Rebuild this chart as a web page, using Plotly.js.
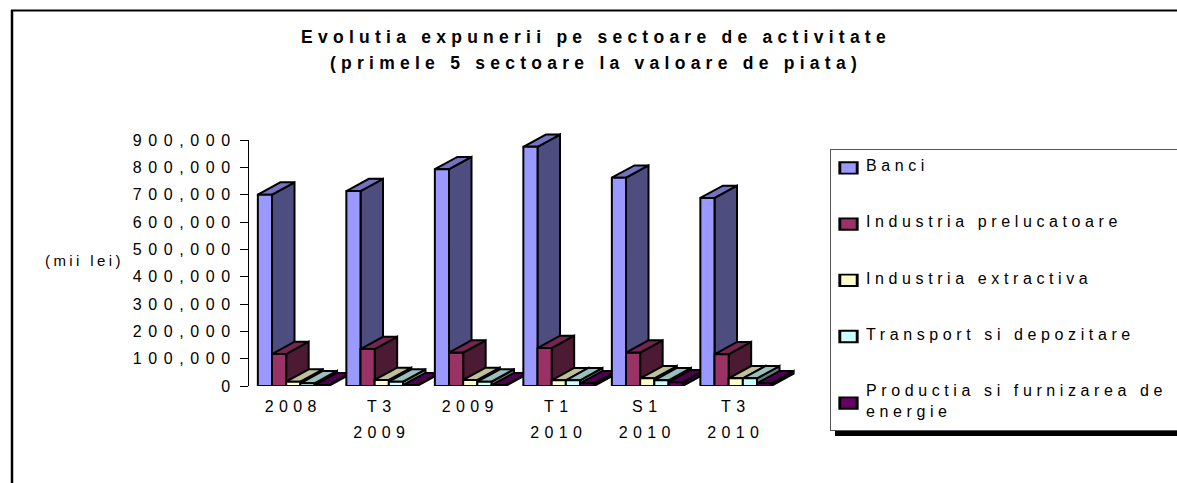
<!DOCTYPE html>
<html>
<head>
<meta charset="utf-8">
<script src="https://cdn.plot.ly/plotly-3.0.1.min.js"></script>
<style>
html,body{margin:0;padding:0;background:#fff;overflow:hidden}
.gtitle{letter-spacing:5.25px}
.y2tick text{letter-spacing:6.6px}
.x2tick text{letter-spacing:5.4px}
.legendtext{letter-spacing:4.6px;transform:translate(-5px,-2px)}
.annotation-text{letter-spacing:3.4px}
.legendpoints path{transform:translate(17.5px,1px) scale(1.45,.95)!important}
</style>
</head>
<body>
<div id="chart" style="width:1177px;height:483px"></div>
<script>
const categories = ["2008","T3<br>2009","2009","T1<br>2010","S1<br>2010","T3<br>2010"];
const banci = [700000,713000,793000,875000,762000,688000];
const prelucratoare = [117000,135000,122000,139000,122000,116000];
const extractiva = [16000,22000,22000,21000,28000,28000];
const transport = [10000,16000,16000,21000,21000,28000];
const energie = [3000,3000,3000,10000,14000,10000];
const seriesNames = ["Banci","Industria prelucatoare","Industria extractiva","Transport si depozitare","Productia si furnizarea de<br>energie"];
const seriesValues = [banci,prelucratoare,extractiva,transport,energie];
const frontColors = ["#9999FF","#993366","#FFFFCC","#CCFFFF","#660066"];
const topColors = ["#7373BF","#732650","#BFBF99","#99BFBF","#4D004D"];
const sideColors = ["#4D4D80","#4D1A33","#808066","#668080","#330033"];

const W=1177,H=483;
const px=x=>x/W, py=y=>(H-y)/H;
const plotL=249,plotR=780,plotT=140,plotB=386;
const yMax=900000;
const bargap=0.2;
const barW=(1-bargap)/seriesValues.length;
const catPx=(plotR-plotL)/categories.length;
const valPx=(plotB-plotT)/yMax;
const depthX=22.5/catPx;
const depthY=12.3/valPx;
const xPad=0.4, yPad=100000;

const traces=[];
const poly=(xs,ys,color)=>({type:"scatter",mode:"lines",x:xs.concat(xs[0]),y:ys.concat(ys[0]),fill:"toself",fillcolor:color,
  line:{color:"#000",width:2,simplify:false},hoverinfo:"skip",showlegend:false,xaxis:"x",yaxis:"y"});
categories.forEach((c,i)=>{
  seriesValues.forEach((vals,s)=>{
    const v=vals[i];
    const l=i-(1-bargap)/2+s*barW, r=l+barW;
    traces.push(poly([r,r,r+depthX,r+depthX],[0,v,v+depthY,depthY],sideColors[s]));
    traces.push(poly([l,r,r+depthX,l+depthX],[v,v,v+depthY,v+depthY],topColors[s]));
  });
});
seriesValues.forEach((vals,s)=>{
  traces.push({type:"bar",name:seriesNames[s],x:categories.map((c,i)=>i),y:vals,xaxis:"x2",yaxis:"y2",
    legendgroup:"g"+s,marker:{color:frontColors[s],line:{color:"#000",width:2}},
    hovertemplate:"%{y:,d}<extra>"+seriesNames[s]+"</extra>"});
});

const domX=[px(plotL),px(plotR)],domY=[py(plotB),py(plotT)];
const font={family:'"Liberation Sans",Arial,sans-serif',color:"#000"};
const layout={
  width:W,height:H,paper_bgcolor:"#fff",plot_bgcolor:"rgba(0,0,0,0)",
  margin:{l:0,r:0,t:0,b:0,pad:0,autoexpand:false},
  barmode:"group",bargap:bargap,bargroupgap:0,
  title:{text:'<span style="font-size:17.5px">Evolutia expunerii pe sectoare de activitate</span><br><span style="font-size:17.5px">(primele 5 sectoare la valoare de piata)</span>',
    x:px(596),xanchor:"center",xref:"paper",y:py(43),yanchor:"top",yref:"container",
    font:Object.assign({},font,{size:20,weight:700})},
  xaxis:{domain:[px(plotL),px(plotR+xPad*catPx)],range:[-0.5,categories.length-0.5+xPad],visible:false,anchor:"y"},
  yaxis:{domain:[py(plotB),py(plotT-yPad*valPx)],range:[0,yMax+yPad],visible:false,anchor:"x"},
  xaxis2:{domain:domX,range:[-0.5,categories.length-0.5],tickmode:"array",tickvals:categories.map((c,i)=>i),
    ticktext:categories.map(c=>c.split("<br>").map(t=>'<span style="font-size:16px">'+t+'</span>').join("<br>")),
    tickfont:Object.assign({},font,{size:20}),ticks:"",showline:false,showgrid:false,zeroline:false,anchor:"y2",ticklabelstandoff:5,tickangle:0},
  yaxis2:{domain:domY,range:[0,yMax],dtick:100000,tick0:0,tickformat:",d",tickfont:Object.assign({},font,{size:16}),
    ticks:"outside",ticklen:8,tickwidth:1,tickcolor:"#000",showline:true,linecolor:"#000",linewidth:1,showgrid:false,zeroline:false,anchor:"x2"},
  showlegend:true,
  legend:{x:px(830),xanchor:"left",y:py(149),yanchor:"top",bgcolor:"#fff",bordercolor:"#555",borderwidth:1,
    traceorder:"grouped",tracegroupgap:32.4,font:Object.assign({},font,{size:16}),entrywidth:360,entrywidthmode:"pixels",itemclick:false,itemdoubleclick:false},
  shapes:[
    {type:"rect",xref:"paper",yref:"paper",x0:px(835),x1:1,y0:py(436),y1:py(420),fillcolor:"#000",line:{width:0}},
    {type:"line",xref:"paper",yref:"paper",x0:px(11),x1:1,y0:py(10.5),y1:py(10.5),line:{color:"#000",width:2}},
    {type:"line",xref:"paper",yref:"paper",x0:px(12),x1:px(12),y0:py(10),y1:0,line:{color:"#000",width:2.5}}
  ],
  annotations:[{xref:"paper",yref:"paper",x:px(84),y:py(260),xanchor:"center",yanchor:"middle",showarrow:false,text:"(mii lei)",font:Object.assign({},font,{size:15})}]
};
Plotly.newPlot("chart",traces,layout,{displayModeBar:false});
</script>
</body>
</html>
